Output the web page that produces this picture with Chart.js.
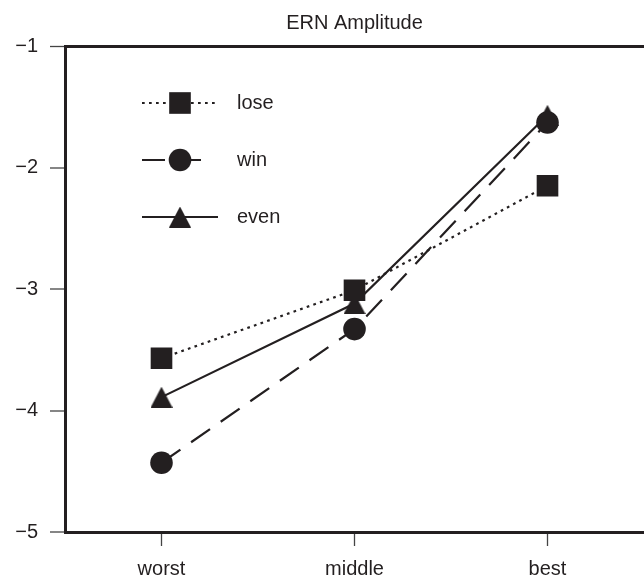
<!DOCTYPE html>
<html>
<head>
<meta charset="utf-8">
<script src="https://cdn.jsdelivr.net/npm/chart.js@4/dist/chart.umd.min.js"></script>
<style>
html,body{margin:0;padding:0;background:#fff;}
canvas{display:block;}
</style>
</head>
<body>
<canvas id="c" width="644" height="582"></canvas>
<script>
const categories = ['worst', 'middle', 'best'];
const seriesNames = ['lose', 'win', 'even'];
const loseValues = [-3.57, -3.01, -2.15];
const winValues = [-4.43, -3.33, -1.63];
const evenValues = [-3.89, -3.12, -1.57];
const yTicks = [-5, -4, -3, -2, -1];

const INK = '#231f20';
const FONT = "'Liberation Sans', Arial, Helvetica, sans-serif";

// bounding-box centred triangle marker
function makeTriangle(w, h) {
  const c = document.createElement('canvas');
  c.width = w; c.height = h;
  const g = c.getContext('2d');
  g.fillStyle = INK;
  g.beginPath();
  g.moveTo(w / 2, 0);
  g.lineTo(w, h);
  g.lineTo(0, h);
  g.closePath();
  g.fill();
  return c;
}
const triangle = makeTriangle(22, 21);

const legendPlugin = {
  id: 'innerLegend',
  afterDatasetsDraw(chart, args, opts) {
    const ctx = chart.ctx;
    const a = chart.chartArea;
    chart.data.datasets.forEach((ds, i) => {
      const y = a.top + opts.rowStart + i * opts.rowGap;
      ctx.save();
      ctx.strokeStyle = ds.borderColor;
      ctx.lineWidth = ds.borderWidth;
      ctx.lineCap = 'butt';
      ctx.setLineDash(ds.borderDash || []);
      ctx.beginPath();
      ctx.moveTo(a.left + opts.lineStart, y);
      ctx.lineTo(a.left + opts.lineEnds[i], y);
      ctx.stroke();
      ctx.setLineDash([]);
      ctx.fillStyle = ds.pointBackgroundColor;
      ctx.strokeStyle = ds.pointBackgroundColor;
      Chart.helpers.drawPoint(ctx, {
        pointStyle: ds.pointStyle,
        radius: ds.pointRadius,
        borderWidth: 0,
        rotation: 0
      }, a.left + opts.markerX, y);
      ctx.fillStyle = INK;
      ctx.font = '20px ' + FONT;
      ctx.textAlign = 'left';
      ctx.textBaseline = 'middle';
      ctx.fillText(ds.label, a.left + opts.textX, y);
      ctx.restore();
    });
  }
};

const lineCommon = {
  borderColor: INK,
  borderWidth: 2.2,
  pointBackgroundColor: INK,
  pointBorderColor: INK,
  pointBorderWidth: 0,
  fill: false,
  tension: 0
};

new Chart(document.getElementById('c'), {
  type: 'line',
  data: {
    labels: categories,
    datasets: [
      Object.assign({}, lineCommon, {
        label: seriesNames[0], data: loseValues,
        borderDash: [2.7, 4.3], pointStyle: 'rect', pointRadius: 15.3, pointHoverRadius: 15.3
      }),
      Object.assign({}, lineCommon, {
        label: seriesNames[1], data: winValues,
        borderDash: [23, 13], pointStyle: 'circle', pointRadius: 11.3, pointHoverRadius: 11.3
      }),
      Object.assign({}, lineCommon, {
        label: seriesNames[2], data: evenValues,
        borderDash: [], pointStyle: triangle, pointRadius: 11, pointHoverRadius: 11
      })
    ]
  },
  options: {
    responsive: false,
    animation: false,
    devicePixelRatio: 1,
    layout: { padding: 0, autoPadding: false },
    events: [],
    plugins: {
      legend: { display: false },
      tooltip: { enabled: false },
      title: {
        display: true,
        text: 'ERN Amplitude',
        fullSize: false,
        color: INK,
        font: { family: FONT, size: 20, weight: 'normal', lineHeight: 1.2 },
        padding: { top: 11, bottom: 11 }
      },
      innerLegend: {
        rowStart: 57, rowGap: 57,
        lineStart: 77, lineEnds: [152, 139, 153],
        markerX: 115, textX: 172
      }
    },
    scales: {
      x: {
        type: 'category',
        offset: true,
        grid: {
          offset: false,
          drawOnChartArea: false,
          drawTicks: true,
          tickLength: 14,
          tickColor: '#444',
          tickWidth: 1.3
        },
        border: { display: true, color: INK, width: 3 },
        ticks: {
          color: INK,
          padding: 11,
          font: { family: FONT, size: 20 },
          maxRotation: 0
        },
        afterFit(scale) {
          scale.height = 50;
          scale.paddingLeft = 0;
          scale.paddingRight = 0;
        }
      },
      y: {
        min: -5, max: -1,
        afterBuildTicks(scale) { scale.ticks = yTicks.map(v => ({ value: v })); },
        grid: {
          drawOnChartArea: true,
          drawTicks: true,
          tickLength: 15,
          tickColor: '#444',
          tickWidth: 1.3,
          color: ctx => (ctx.tick && ctx.tick.value === -1) ? INK : 'rgba(0,0,0,0)',
          lineWidth: ctx => (ctx.tick && ctx.tick.value === -1) ? 3 : 0
        },
        border: { display: true, color: INK, width: 3 },
        ticks: {
          color: INK,
          padding: 12,
          font: { family: FONT, size: 20 },
          callback: v => String(v).replace('-', '\u2212')
        },
        afterFit(scale) {
          scale.width = 65;
          scale.paddingTop = 0;
          scale.paddingBottom = 0;
        }
      }
    }
  },
  plugins: [legendPlugin]
});
</script>
</body>
</html>
